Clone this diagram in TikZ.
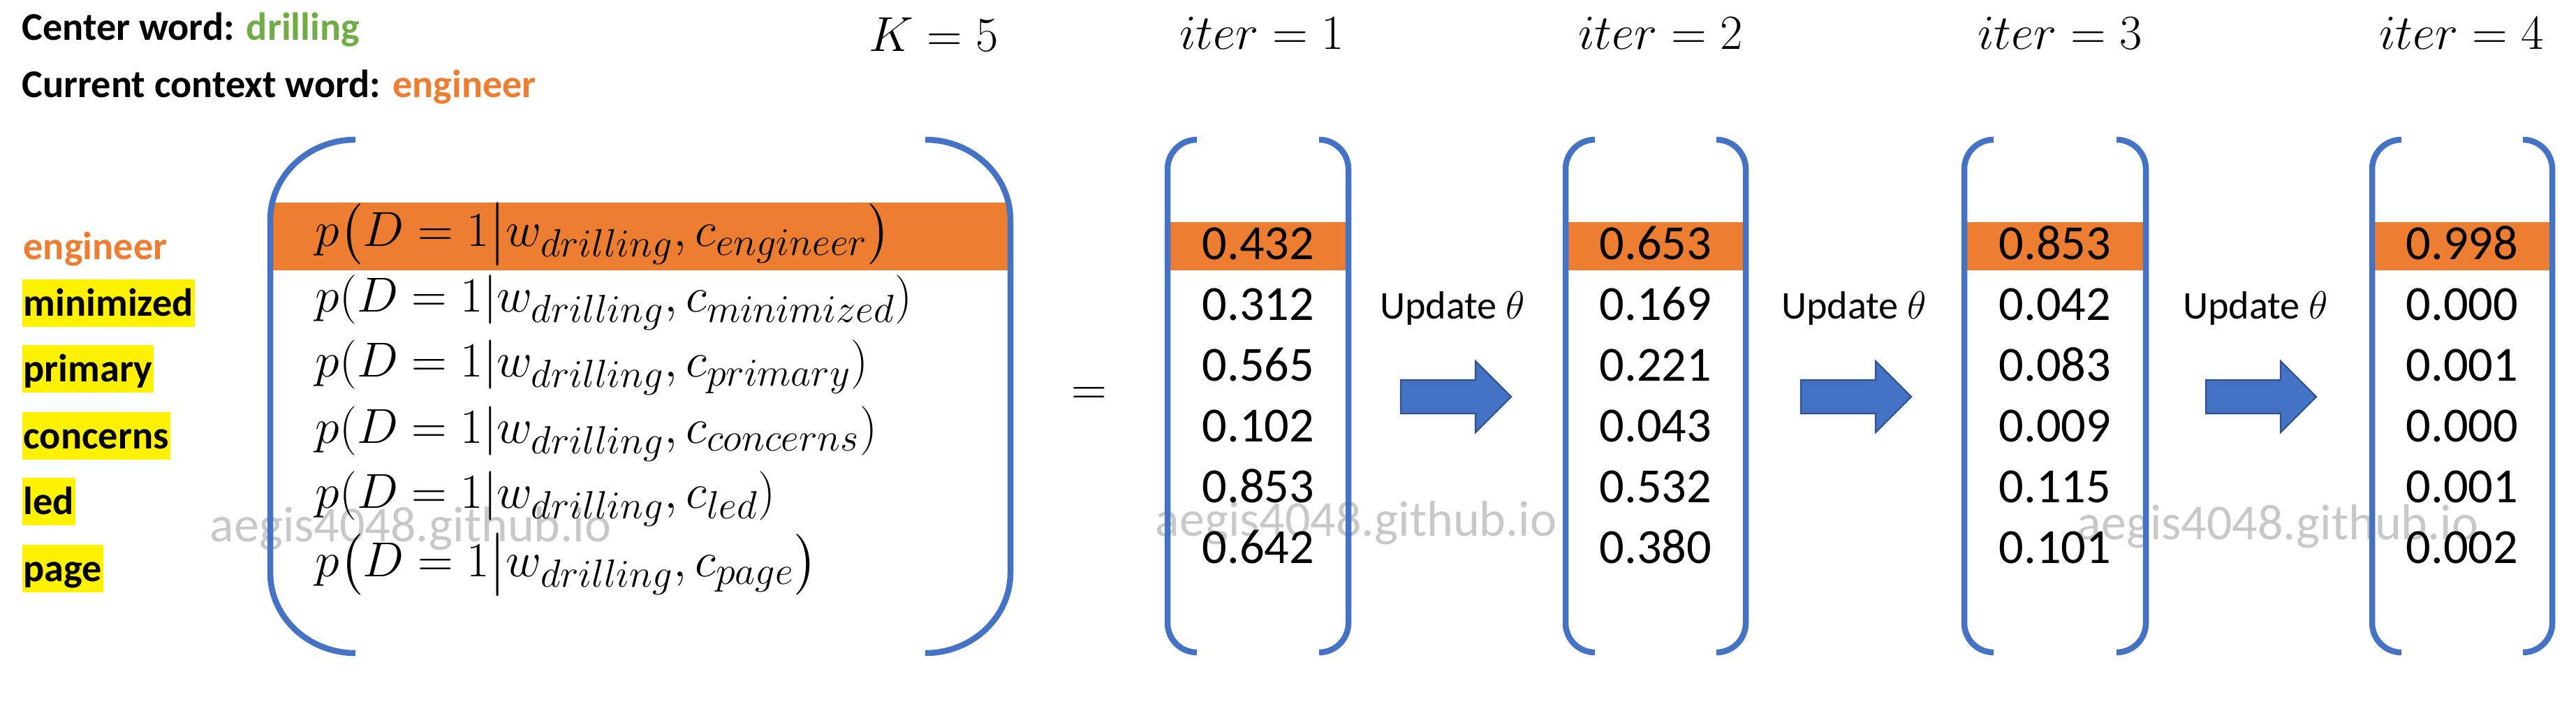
\RequirePackage{fix-cm}
\documentclass[tikz,border=0pt]{standalone}
\usepackage{fontspec}
\setmainfont{Carlito}
\usepackage{amsmath}
\usepackage{tikz}
\usepackage{xcolor}
\usetikzlibrary{positioning}
\definecolor{bracketblue}{HTML}{4472C4}
\definecolor{arrowedge}{HTML}{2F528F}
\definecolor{hlorange}{HTML}{ED7D31}
\definecolor{wordgreen}{HTML}{70AD47}
\definecolor{markgray}{HTML}{C8C8C8}
\DeclareMathSizes{20}{20}{16}{12}
\begin{document}
\begin{tikzpicture}[
  every node/.style={inner sep=0pt},
  head/.style={font=\fontsize{16}{19}\selectfont\bfseries, anchor=base west},
  ctx/.style={font=\fontsize{16}{19}\selectfont\bfseries, anchor=base west, text height=0.53cm, text depth=0.15cm, inner xsep=0.02cm},
  hl/.style={ctx, fill=yellow},
  prob/.style={font=\fontsize{20}{24}\selectfont, anchor=base west},
  itlabel/.style={font=\fontsize{20}{24}\selectfont, anchor=base},
  num/.style={font=\fontsize{20}{24}\selectfont, anchor=base},
  upd/.style={font=\fontsize{16}{19}\selectfont, anchor=base},
  wmark/.style={font=\fontsize{20.5}{24}\selectfont, text=markgray, anchor=base west},
  brak/.style={draw=bracketblue, line width=0.085cm},
  band/.style={fill=hlorange},
  blockarrow/.style={draw=arrowedge, fill=bracketblue, line width=0.6pt}
]
\useasboundingbox (0,0) rectangle (36.89,10.05);

% Watermarks
\node[wmark] (wm1) at (3.00,2.29) {aegis4048.github.io};
\node[wmark] (wm2) at (16.54,2.37) {aegis4048.github.io};
\node[wmark] (wm3) at (29.74,2.32) {aegis4048.github.io};

% Header
\node[head] (center) at (0.31,9.47) {Center word: \textcolor{wordgreen}{drilling}};
\node[head] (current) at (0.31,8.65) {Current context word: \textcolor{hlorange}{engineer}};
\node[itlabel] (K) at (13.37,9.31) {$K = 5$};

% Context words on the left
\node[ctx, text=hlorange] (w-engineer) at (0.31,6.33) {engineer};
\node[hl] (w-minimized) at (0.31,5.52) {minimized};
\node[hl] (w-primary) at (0.31,4.58) {primary};
\node[hl] (w-concerns) at (0.31,3.62) {concerns};
\node[hl] (w-led) at (0.31,2.68) {led};
\node[hl] (w-page) at (0.31,1.72) {page};

% Big vector of probabilities
\fill[band] (3.87,7.15) rectangle (14.47,6.18);
\draw[brak] (5.09,8.05) arc[start angle=90, end angle=180, x radius=1.22, y radius=1.15]
  -- (3.87,1.85) arc[start angle=180, end angle=270, x radius=1.22, y radius=1.15];
\draw[brak] (13.25,8.05) arc[start angle=90, end angle=0, x radius=1.22, y radius=1.15]
  -- (14.47,1.85) arc[start angle=0, end angle=-90, x radius=1.22, y radius=1.15];
\node[prob] (p-engineer) at (4.51,6.52) {$p\bigl(D = 1\big|w_{drilling}, c_{engineer}\bigr)$};
\node[prob] (p-minimized) at (4.51,5.58) {$p(D = 1|w_{drilling}, c_{minimized})$};
\node[prob] (p-primary) at (4.51,4.65) {$p(D = 1|w_{drilling}, c_{primary})$};
\node[prob] (p-concerns) at (4.51,3.70) {$p(D = 1|w_{drilling}, c_{concerns})$};
\node[prob] (p-led) at (4.51,2.77) {$p(D = 1|w_{drilling}, c_{led})$};
\node[prob] (p-page) at (4.51,1.79) {$p\bigl(D = 1\big|w_{drilling}, c_{page}\bigr)$};
\node[itlabel, anchor=center] (eq) at (15.60,4.38) {$=$};

% Iteration vectors
\foreach \xl/\xr in {16.72/19.31, 22.42/25.00, 28.13/30.73, 33.97/36.55} {
  \fill[band] (\xl,6.87) rectangle (\xr,6.18);
  \draw[brak] (\xl+0.42,8.05) arc[start angle=90, end angle=180, radius=0.42]
    -- (\xl,1.13) arc[start angle=180, end angle=270, radius=0.42];
  \draw[brak] (\xr-0.42,8.05) arc[start angle=90, end angle=0, radius=0.42]
    -- (\xr,1.13) arc[start angle=0, end angle=-90, radius=0.42];
}
\node[itlabel] (iter1) at (18.07,9.34) {$iter = 1$};
\node[itlabel] (iter2) at (23.78,9.34) {$iter = 2$};
\node[itlabel] (iter3) at (29.50,9.34) {$iter = 3$};
\node[itlabel] (iter4) at (35.25,9.34) {$iter = 4$};
\foreach \v [count=\i from 0] in {0.432,0.312,0.565,0.102,0.853,0.642}
  \node[num] (a-\i) at (18.02,6.33-0.87*\i) {\v};
\foreach \v [count=\i from 0] in {0.653,0.169,0.221,0.043,0.532,0.380}
  \node[num] (b-\i) at (23.71,6.33-0.87*\i) {\v};
\foreach \v [count=\i from 0] in {0.853,0.042,0.083,0.009,0.115,0.101}
  \node[num] (c-\i) at (29.43,6.33-0.87*\i) {\v};
\foreach \v [count=\i from 0] in {0.998,0.000,0.001,0.000,0.001,0.002}
  \node[num] (d-\i) at (35.26,6.33-0.87*\i) {\v};

% Update arrows
\foreach \xa in {20.06,25.79,31.59}
  \draw[blockarrow] (\xa,4.61) -- ++(1.07,0) -- ++(0,0.27) -- ++(0.51,-0.51)
    -- ++(-0.51,-0.51) -- ++(0,0.27) -- ++(-1.07,0) -- cycle;
\node[upd] (upd1) at (20.80,5.48) {Update $\theta$};
\node[upd] (upd2) at (26.55,5.48) {Update $\theta$};
\node[upd] (upd3) at (32.30,5.48) {Update $\theta$};

\end{tikzpicture}
\end{document}
